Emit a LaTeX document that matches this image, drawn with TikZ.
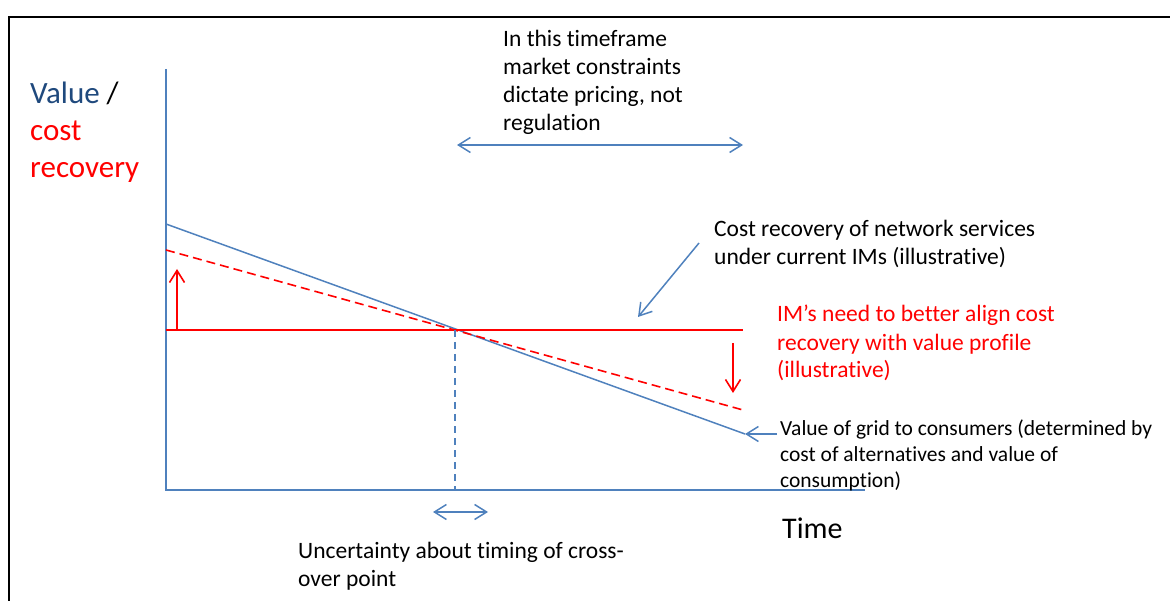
\documentclass[tikz,border=0pt]{standalone}
\usepackage{fontspec}
\setmainfont{Carlito}[Ligatures=NoCommon]
\usepackage{xcolor}
\usetikzlibrary{arrows.meta}
\definecolor{imblue}{RGB}{79,129,189}
\definecolor{imdarkblue}{RGB}{31,73,125}
\definecolor{imred}{RGB}{255,0,0}

\begin{document}
\begin{tikzpicture}[x=1pt,y=-1pt,
  blueline/.style={imblue,line width=1.5pt},
  redline/.style={imred,line width=1.6pt},
  openarrow/.style={-{Straight Barb[length=12pt,width=15pt]}},
  bothopen/.style={{Straight Barb[length=12pt,width=15pt]}-{Straight Barb[length=12pt,width=15pt]}},
  txt/.style={align=left,anchor=base west,inner sep=0pt,font=\fontsize{23.5}{28}\selectfont}]
\useasboundingbox (0,0) rectangle (1170,601);

% Frame
\draw[line width=1.5pt] (9,601) -- (9,17) -- (1170,17);

% Axes
\coordinate (origin) at (166,490);
\coordinate (ytop) at (166,69);
\coordinate (xend) at (865,490);
\draw[blueline] (ytop) -- (origin) -- (xend);

% Lines
\coordinate (vstart) at (166,224);
\coordinate (vend) at (745,434);
\coordinate (cross) at (455,330);
\coordinate (cstart) at (166,330);
\coordinate (cend) at (743,330);
\coordinate (dstart) at (166,250);
\coordinate (dend) at (743,410);
\draw[blueline] (vstart) -- (vend);
\draw[redline] (cstart) -- (cend);
\draw[redline,dash pattern=on 9pt off 5pt] (dstart) -- (dend);
\draw[blueline,line width=1.3pt,dash pattern=on 7pt off 5pt] (cross) -- (cross |- origin);

% Shift arrows
\coordinate (upfoot) at (177,330);
\coordinate (uphead) at (177,269);
\coordinate (downfoot) at (733,343);
\coordinate (downhead) at (733,393);
\draw[redline,openarrow] (upfoot) -- (uphead);
\draw[redline,openarrow] (downfoot) -- (downhead);

% Timeframes
\coordinate (tfa) at (457,145);
\coordinate (tfb) at (743,145);
\draw[blueline,bothopen] (tfa) -- (tfb);
\coordinate (uca) at (433,512);
\coordinate (ucb) at (488,512);
\draw[blueline,bothopen] (uca) -- (ucb);

% Labels (anchored at the baseline of the last line)
\node[txt,font=\fontsize{31}{37}\selectfont] (ylabel) at (30,178)
  {\textcolor{imdarkblue}{Value} /\\\textcolor{imred}{cost}\\\textcolor{imred}{recovery}};
\node[txt,font=\fontsize{30}{36}\selectfont] (xlabel) at (782,538) {Time};
\node[txt] (market) at (503,131)
  {In this timeframe\\market constraints\\dictate pricing, not\\regulation};
\node[txt] (costrec) at (714,265)
  {Cost recovery of network services\\under current IMs (illustrative)};
\node[txt,text=imred] (align) at (777,378)
  {IM’s need to better align cost\\recovery with value profile\\(illustrative)};
\node[txt,font=\fontsize{21.5}{26}\selectfont] (value) at (780,487)
  {Value of grid to consumers (determined by\\cost of alternatives and value of\\consumption)};
\node[txt] (timing) at (298,586)
  {Uncertainty about timing of cross-\\over point};

% Pointers
\coordinate (cpfrom) at (699,243);
\coordinate (cpto) at (638,317);
\draw[blueline,openarrow] (cpfrom) -- (cpto);
\coordinate (vpfrom) at (777,434);
\draw[blueline,openarrow] (vpfrom) -- (vend);
\end{tikzpicture}
\end{document}
